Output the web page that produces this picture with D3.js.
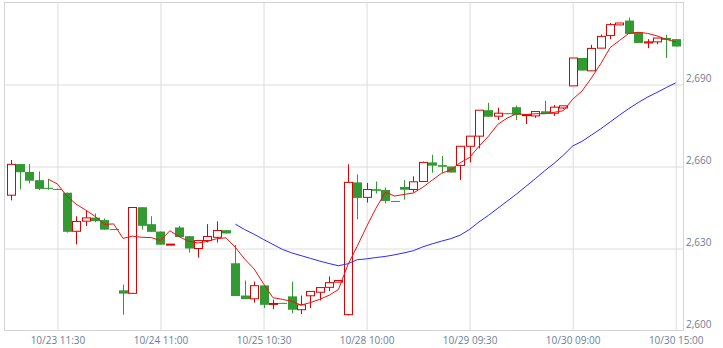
<!DOCTYPE html>
<html>
<head>
<meta charset="utf-8">
<script src="https://cdn.jsdelivr.net/npm/d3@7"></script>
<style>
  body { margin: 0; background: #fff; }
  svg text { font-family: "Open Sans", sans-serif; font-size: 10px; fill: #6d7d96; }
</style>
</head>
<body>
<svg id="chart" width="723" height="348"></svg>
<script>
// categories: 6 sessions x 12 half-hour bars
var days = ["10/23", "10/24", "10/25", "10/28", "10/29", "10/30"];
var times = ["09:00", "09:30", "10:00", "10:30", "11:00", "11:30", "12:30", "13:00", "13:30", "14:00", "14:30", "15:00"];

var xTicks = ["10/23 11:30", "10/24 11:00", "10/25 10:30", "10/28 10:00", "10/29 09:30", "10/30 09:00", "10/30 15:00"];
var yTicks = [2600, 2630, 2660, 2690];

var openVals = [2649.5,2660.9,2658.0,2655.0,2652.2,2651.8,2650.4,2636.3,2640.0,2641.3,2640.4,2637.1,
  2614.7,2613.6,2645.1,2638.9,2636.2,2631.4,2637.7,2634.5,2630.0,2632.9,2634.1,2636.7,
  2624.6,2612.8,2611.6,2616.5,2609.7,2610.1,2612.5,2607.6,2612.7,2614.0,2615.8,2617.7,
  2605.8,2654.2,2648.7,2651.7,2651.4,2647.4,2652.5,2651.6,2654.5,2661.5,2660.5,2660.0,
  2660.4,2667.4,2671.1,2680.6,2678.4,2679.5,2681.7,2678.8,2678.5,2680.2,2679.5,2681.4,
  2689.5,2699.7,2695.0,2703.3,2707.9,2711.8,2713.4,2709.1,2705.2,2705.6,2707.0,2706.6];
var highVals = [2662.4,2660.9,2660.9,2658.2,2655.3,2651.9,2650.4,2641.8,2643.8,2642.8,2641.0,2637.2,
  2616.8,2645.0,2645.1,2641.8,2636.2,2631.6,2638.2,2634.5,2633.0,2638.9,2639.9,2636.7,
  2631.3,2618.3,2617.9,2616.5,2611.3,2610.1,2617.9,2612.8,2614.3,2615.7,2619.8,2618.3,
  2660.8,2657.1,2654.0,2654.5,2652.3,2647.4,2655.0,2656.4,2661.8,2664.3,2663.8,2660.0,
  2667.4,2671.1,2680.6,2683.3,2681.5,2679.6,2682.3,2679.0,2680.1,2684.0,2682.5,2682.2,
  2699.7,2699.7,2704.5,2708.3,2712.5,2712.5,2714.5,2709.1,2706.6,2707.0,2708.2,2706.6];
var lowVals = [2647.6,2651.6,2653.8,2651.4,2651.5,2651.4,2635.8,2631.5,2638.2,2639.6,2636.9,2636.8,
  2605.8,2613.6,2636.9,2636.1,2631.4,2631.4,2634.2,2628.5,2626.7,2632.2,2632.2,2635.5,
  2612.6,2611.5,2610.2,2608.2,2607.8,2610.0,2606.3,2606.0,2608.2,2611.0,2614.4,2617.7,
  2605.5,2640.7,2646.8,2650.1,2646.5,2647.2,2647.9,2650.5,2654.5,2657.7,2657.5,2657.8,
  2655.0,2661.5,2666.6,2678.2,2677.0,2679.2,2677.0,2675.5,2677.8,2679.2,2678.5,2681.0,
  2689.5,2695.1,2695.0,2703.3,2706.6,2711.8,2708.5,2705.2,2703.3,2704.7,2699.7,2703.9];
var closeVals = [2660.8,2657.9,2654.8,2651.8,2651.8,2651.6,2636.1,2639.9,2641.2,2640.0,2636.9,2637.0,
  2613.5,2645.0,2638.3,2636.1,2631.4,2631.6,2634.2,2630.0,2632.9,2634.4,2636.6,2635.5,
  2612.6,2611.5,2616.4,2609.4,2609.9,2610.0,2607.6,2609.4,2614.3,2615.7,2617.5,2618.3,
  2654.2,2648.5,2651.6,2651.1,2647.4,2647.3,2651.5,2654.4,2661.5,2660.3,2659.9,2657.8,
  2667.4,2671.1,2680.6,2678.2,2679.5,2679.3,2678.9,2679.0,2680.1,2679.2,2681.7,2682.2,
  2699.7,2695.1,2703.2,2707.6,2711.9,2712.5,2708.5,2705.2,2705.6,2707.0,2706.3,2703.9];

// short moving average (red) and long moving average (blue)
var maShort = [null,null,null,null,2655.4,2653.6,2649.2,2646.2,2644.1,2641.8,2638.8,2639.0,
  2633.7,2634.5,2634.1,2634.0,2632.9,2636.5,2634.3,2632.7,2632.0,2632.6,2633.6,2633.9,
  2630.4,2626.1,2622.5,2617.1,2612.0,2611.4,2610.7,2609.3,2610.2,2611.4,2612.9,2615.0,
  2624.0,2630.8,2638.0,2644.7,2650.6,2649.2,2649.8,2650.3,2652.4,2655.0,2657.5,2658.8,
  2661.4,2663.3,2667.4,2671.0,2675.4,2677.7,2679.3,2679.0,2679.3,2679.3,2679.8,2680.4,
  2684.6,2687.6,2692.4,2697.6,2703.5,2706.1,2708.7,2709.1,2708.7,2707.8,2706.5,2705.6];
var maLong = [null,null,null,null,null,null,null,null,null,null,null,null,
  null,null,null,null,null,null,null,null,null,null,null,null,
  2638.9,2636.9,2635.2,2633.3,2631.5,2629.7,2628.4,2627.4,2626.4,2625.4,2624.5,2623.7,
  2624.4,2625.9,2626.2,2626.7,2627.1,2627.7,2628.4,2629.2,2630.6,2631.7,2632.7,2633.6,
  2634.9,2637.0,2639.7,2642.1,2644.7,2647.3,2649.9,2652.7,2655.5,2658.4,2661.1,2664.1,
  2667.5,2669.2,2671.5,2673.8,2676.3,2678.8,2681.2,2683.4,2685.4,2687.1,2688.9,2690.6];

var bars = [];
days.forEach(function(d) {
  times.forEach(function(t) { bars.push(d + " " + t); });
});

var data = bars.map(function(b, i) {
  return { label: b, o: openVals[i], h: highVals[i], l: lowVals[i], c: closeVals[i] };
});

// plot box (window.top is reserved, so no bare "top")
var plotLeft = 4.5, plotRight = 683.5, plotTop = 2.5, plotBottom = 330.5;
var upColor = "#dd0000", downColor = "#339933";

var svg = d3.select("#chart");

var x = d3.scalePoint().domain(bars).range([10.6, 675.7]);
var y = d3.scaleLinear().domain([2600, 2720]).range([plotBottom, plotTop]);

// grid
svg.append("g")
  .attr("transform", "translate(0," + plotBottom + ")")
  .call(d3.axisBottom(x).tickValues(xTicks).tickSize(-(plotBottom - plotTop)).tickFormat(""))
  .call(function(g) { g.select(".domain").remove(); })
  .selectAll("line").attr("stroke", "#dcdcdc");

svg.append("g")
  .attr("transform", "translate(" + plotLeft + ",0)")
  .call(d3.axisRight(y).tickValues(yTicks.slice(1)).tickSize(plotRight - plotLeft).tickFormat(""))
  .call(function(g) { g.select(".domain").remove(); })
  .selectAll("line").attr("stroke", "#dcdcdc");

svg.append("rect")
  .attr("x", plotLeft).attr("y", plotTop)
  .attr("width", plotRight - plotLeft).attr("height", plotBottom - plotTop)
  .attr("fill", "none").attr("stroke", "#d4d4d4");

// labels
svg.append("g")
  .attr("transform", "translate(0," + plotBottom + ")")
  .call(d3.axisBottom(x).tickValues(xTicks).tickSize(0).tickPadding(6))
  .call(function(g) { g.select(".domain").remove(); });

svg.append("g")
  .attr("transform", "translate(" + plotRight + ",0)")
  .call(d3.axisRight(y).tickValues(yTicks).tickSize(0).tickPadding(2.5).tickFormat(d3.format(",")))
  .call(function(g) { g.select(".domain").remove(); })
  .selectAll("text").attr("dy", "-0.28em");

// candles
var candle = svg.append("g").selectAll("g")
  .data(data)
  .enter().append("g");

function cx(d) { return Math.round(x(d.label)) + 0.5; }
function isUp(d) { return d.c >= d.o; }

candle.append("line")
  .attr("x1", cx).attr("x2", cx)
  .attr("y1", function(d) { return y(d.h); })
  .attr("y2", function(d) { return y(d.l); })
  .attr("stroke", function(d) { return isUp(d) ? upColor : downColor; })
  .attr("stroke-width", 1);

candle.append("rect")
  .attr("x", function(d) { return isUp(d) ? cx(d) - 4 : cx(d) - 4.5; })
  .attr("width", function(d) { return isUp(d) ? 8 : 9; })
  .attr("y", function(d) { return y(Math.max(d.o, d.c)); })
  .attr("height", function(d) { return Math.max(1, Math.abs(y(d.o) - y(d.c))); })
  .attr("fill", function(d) { return isUp(d) ? "#fff" : downColor; })
  .attr("stroke", function(d) { return isUp(d) ? upColor : "none"; })
  .attr("stroke-width", 1);

// moving averages
var line = d3.line()
  .defined(function(d) { return d != null; })
  .x(function(d, i) { return x(bars[i]); })
  .y(function(d) { return y(d); });

svg.append("path")
  .attr("d", line(maLong))
  .attr("fill", "none")
  .attr("stroke", "#2a2aff")
  .attr("stroke-width", 1);

svg.append("path")
  .attr("d", line(maShort))
  .attr("fill", "none")
  .attr("stroke", "#f01010")
  .attr("stroke-width", 1);
</script>
</body>
</html>
